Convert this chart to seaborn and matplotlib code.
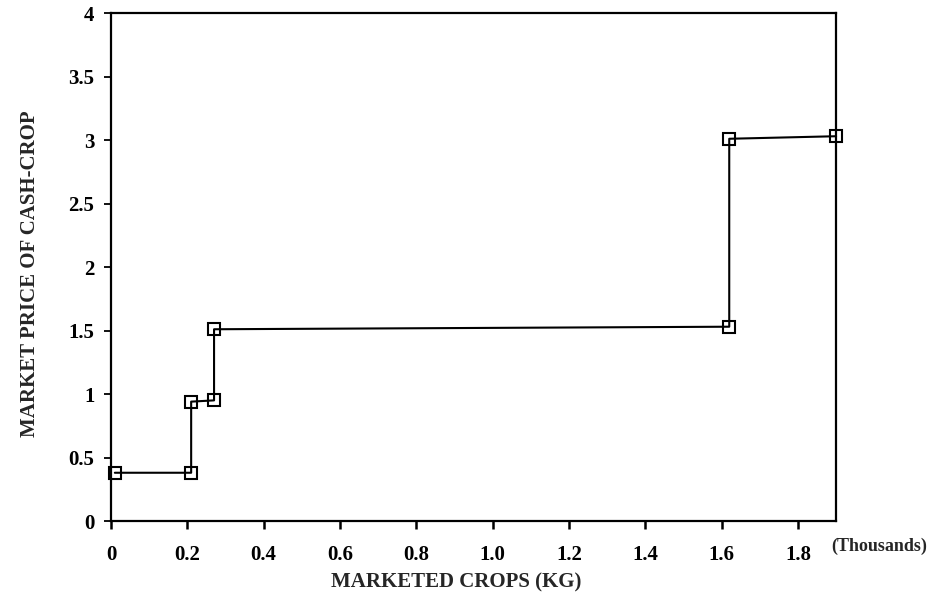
import matplotlib
matplotlib.use("Agg")
import matplotlib.pyplot as plt
import seaborn as sns
import pandas as pd

# Stepped supply response: marketed quantity (thousand kg) vs. cash-crop price
marketed_kg_thousands = [0.01, 0.21, 0.21, 0.27, 0.27, 1.62, 1.62, 1.90]
market_price = [0.38, 0.38, 0.94, 0.95, 1.51, 1.53, 3.01, 3.03]

x_ticks = [0.0, 0.2, 0.4, 0.6, 0.8, 1.0, 1.2, 1.4, 1.6, 1.8]
x_tick_labels = ["0", "0.2", "0.4", "0.6", "0.8", "1.0", "1.2", "1.4", "1.6", "1.8"]
y_ticks = [0, 0.5, 1, 1.5, 2, 2.5, 3, 3.5, 4]
y_tick_labels = ["0", "0.5", "1", "1.5", "2", "2.5", "3", "3.5", "4"]

sns.set_theme(style="white")
plt.rcParams["font.family"] = ["Liberation Serif", "DejaVu Serif"]
plt.rcParams["font.weight"] = "bold"

df = pd.DataFrame({"qty": marketed_kg_thousands, "price": market_price})

fig = plt.figure(figsize=(9.29, 5.93), dpi=100)
ax = fig.add_axes([0.1195, 0.1214, 0.7805, 0.8566])

sns.lineplot(data=df, x="qty", y="price", estimator=None, sort=False,
             color="black", linewidth=1.5, marker="s", markersize=8.5,
             markerfacecolor="none", markeredgecolor="black",
             markeredgewidth=1.5, ax=ax)
for line in ax.lines:
    line.set_clip_on(False)

ax.set_xlim(0, 1.90)
ax.set_ylim(0, 4)
ax.set_xticks(x_ticks)
ax.set_xticklabels(x_tick_labels)
ax.set_yticks(y_ticks)
ax.set_yticklabels(y_tick_labels)

for side in ["top", "bottom", "left", "right"]:
    ax.spines[side].set_visible(True)
    ax.spines[side].set_color("black")
    ax.spines[side].set_linewidth(1.6)

ax.tick_params(axis="x", direction="out", length=6, width=1.8, pad=11,
               labelsize=15, colors="black", bottom=True)
ax.tick_params(axis="y", direction="out", length=5, width=1.3, pad=7,
               labelsize=15, colors="black", left=True)
for lbl in ax.get_xticklabels() + ax.get_yticklabels():
    lbl.set_fontweight("bold")

ax.set_xlabel("MARKETED CROPS (KG)", fontsize=15, fontweight="bold")
ax.xaxis.set_label_coords(0.476, -0.101)
ax.set_ylabel("MARKET PRICE OF CASH-CROP", fontsize=15, fontweight="bold")
ax.yaxis.set_label_coords(-0.098, 0.486)

fig.text(0.9985, 0.078, "(Thousands)", ha="right", va="center",
         fontsize=13, fontweight="bold")

ax.grid(False)
fig.savefig("out.png", dpi=100, facecolor="white")
